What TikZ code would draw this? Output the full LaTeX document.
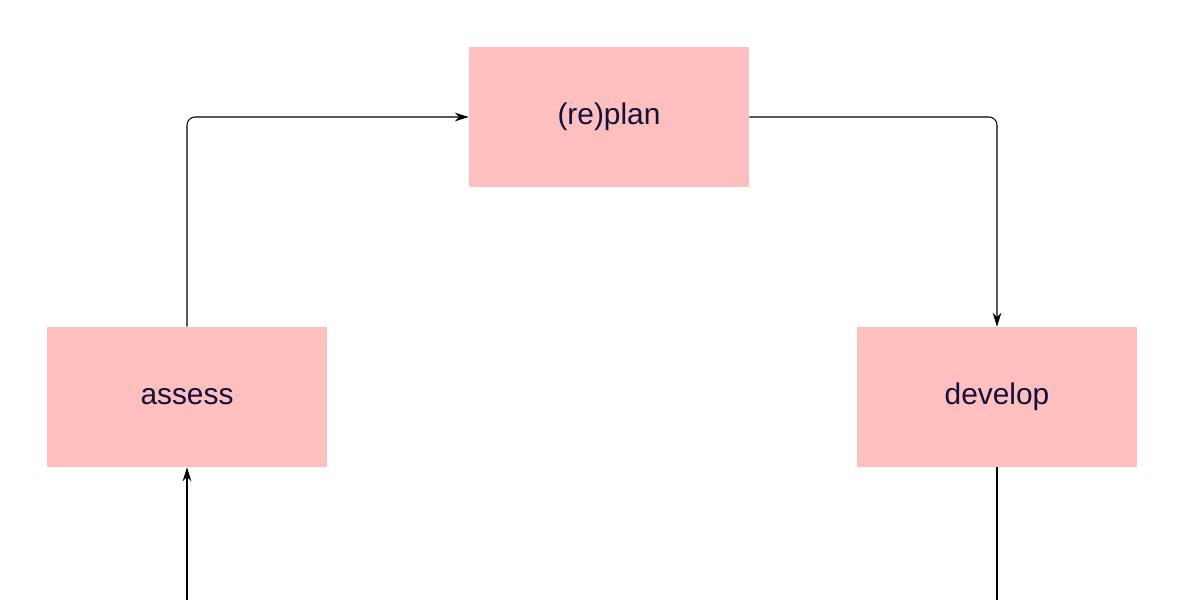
\documentclass[tikz,border=0pt]{standalone}
\usepackage{fontspec}
\setmainfont{Liberation Sans}
\usetikzlibrary{arrows.meta}
\definecolor{boxpink}{HTML}{FFBFBF}
\definecolor{textnavy}{HTML}{10103A}

\begin{document}
\begin{tikzpicture}[x=0.02cm,y=-0.02cm,
    stage/.style={fill=boxpink,minimum width=5.6cm,minimum height=2.8cm,
      text=textnavy,font=\fontsize{17}{20}\selectfont},
    flow/.style={line width=0.6pt,rounded corners=0.16cm,-{Stealth[length=8pt,width=5pt]}}]
  \useasboundingbox (0,0) rectangle (1200,600);
  \node [stage] (plan) at (609,117) {(re)plan};
  \node [stage] (assess) at (187,397) {assess};
  \node [stage] (develop) at (997,397) {develop};
  \coordinate (inbot) at (187,600);
  \coordinate (outbot) at (997,600);
  \draw [flow] (assess.north) |- (plan.west);
  \draw [flow] (plan.east) -| (develop.north);
  \draw [flow] (inbot) -- (assess.south);
  \draw [line width=0.6pt] (develop.south) -- (outbot);
\end{tikzpicture}
\end{document}
